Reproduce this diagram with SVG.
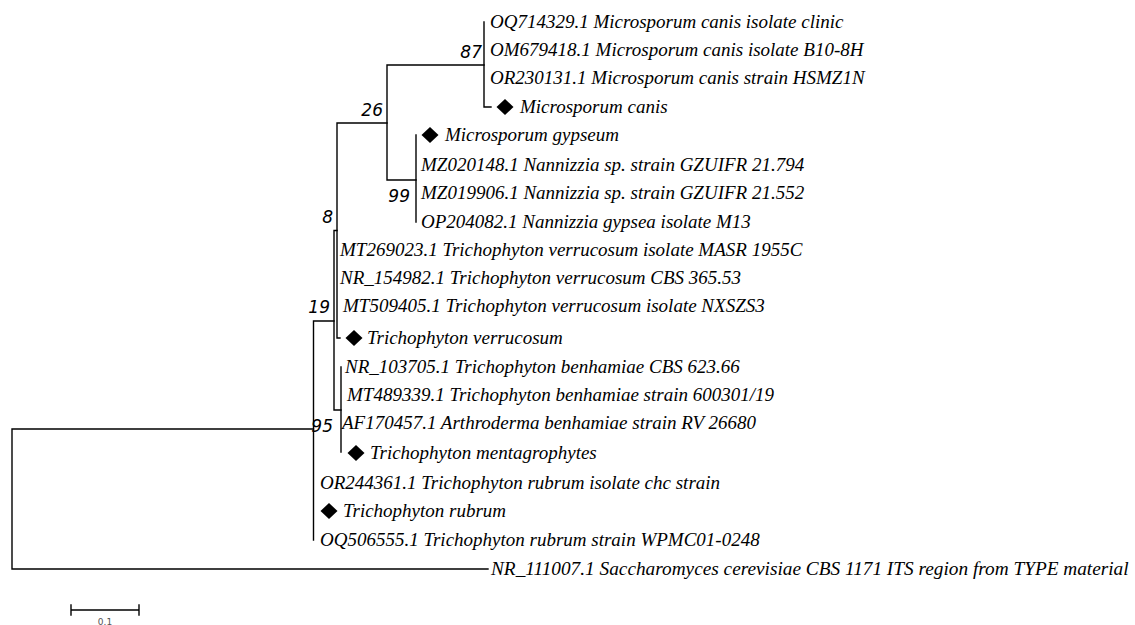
<svg xmlns="http://www.w3.org/2000/svg" width="1135" height="625" viewBox="0 0 1135 625">
<style>
.t{font-family:"Liberation Serif","Times New Roman",serif;font-style:italic;font-size:19px;fill:#000}
.b{font-family:"DejaVu Sans",Verdana,sans-serif;font-style:oblique;font-size:17px;fill:#000;text-anchor:end}
.l{stroke:#000;stroke-width:1.4;fill:none;stroke-linecap:square}
.s{font-family:"DejaVu Sans",sans-serif;font-size:9px;fill:#555;text-anchor:middle}
</style>
<defs>
<path id="dm" d="M0,-8 L8.5,0 L0,8 L-8.5,0 Z" fill="#000"/>
</defs>
<rect width="1135" height="625" fill="#fff"/>
<g id="connectors" class="l">
<path d="M12,429 V569 M12,429 H313.5 M12,569 H488"/>
<path d="M313.5,321 V540 M313.5,321 H334"/>
<path d="M334,230.5 V410 M334,230.5 H337 M334,410 H341"/>
<path d="M337,123 V338 M337,338 H340 M337,123 H387"/>
<path d="M387,65 V180 M387,65 H484 M387,180 H416"/>
<path d="M484,22 V107 M484,107 H491"/>
<path d="M416,135 V222"/>
<path d="M341,367 V452"/>
</g>
<g id="bootstrap">
<text class="b" x="482" y="58">87</text>
<text class="b" x="383" y="116">26</text>
<text class="b" x="410" y="202">99</text>
<text class="b" x="333" y="223">8</text>
<text class="b" x="330" y="313">19</text>
<text class="b" x="333" y="432">95</text>
</g>
<g id="leaf1"><text class="t" x="490" y="28">OQ714329.1 Microsporum canis isolate clinic</text></g>
<g id="leaf2"><text class="t" x="490" y="56">OM679418.1 Microsporum canis isolate B10-8H</text></g>
<g id="leaf3"><text class="t" x="490" y="84">OR230131.1 Microsporum canis strain HSMZ1N</text></g>
<g id="leaf4"><use href="#dm" x="505" y="107"/><text class="t" x="520" y="113">Microsporum canis</text></g>
<g id="leaf5"><use href="#dm" x="430" y="135"/><text class="t" x="445" y="141">Microsporum gypseum</text></g>
<g id="leaf6"><text class="t" x="421" y="171">MZ020148.1 Nannizzia sp. strain GZUIFR 21.794</text></g>
<g id="leaf7"><text class="t" x="421" y="199">MZ019906.1 Nannizzia sp. strain GZUIFR 21.552</text></g>
<g id="leaf8"><text class="t" x="421" y="228">OP204082.1 Nannizzia gypsea isolate M13</text></g>
<g id="leaf9"><text class="t" x="340" y="256">MT269023.1 Trichophyton verrucosum isolate MASR 1955C</text></g>
<g id="leaf10"><text class="t" x="340" y="284">NR_154982.1 Trichophyton verrucosum CBS 365.53</text></g>
<g id="leaf11"><text class="t" x="343" y="312">MT509405.1 Trichophyton verrucosum isolate NXSZS3</text></g>
<g id="leaf12"><use href="#dm" x="354" y="338"/><text class="t" x="367" y="344">Trichophyton verrucosum</text></g>
<g id="leaf13"><text class="t" x="345" y="373">NR_103705.1 Trichophyton benhamiae CBS 623.66</text></g>
<g id="leaf14"><text class="t" x="347" y="401">MT489339.1 Trichophyton benhamiae strain 600301/19</text></g>
<g id="leaf15"><text class="t" x="342" y="429">AF170457.1 Arthroderma benhamiae strain RV 26680</text></g>
<g id="leaf16"><use href="#dm" x="356" y="453"/><text class="t" x="370" y="459">Trichophyton mentagrophytes</text></g>
<g id="leaf17"><text class="t" x="320" y="489">OR244361.1 Trichophyton rubrum isolate chc strain</text></g>
<g id="leaf18"><use href="#dm" x="329" y="511"/><text class="t" x="343" y="517">Trichophyton rubrum</text></g>
<g id="leaf19"><text class="t" x="320" y="546">OQ506555.1 Trichophyton rubrum strain WPMC01-0248</text></g>
<g id="leaf20"><text class="t" x="491" y="575" style="font-size:19.3px">NR_111007.1 Saccharomyces cerevisiae CBS 1171 ITS region from TYPE material</text></g>
<g id="scalebar">
<path class="l" d="M71,610 H139 M71,605 V615 M139,605 V615" stroke-width="1.2"/>
<text class="s" x="105" y="624.5">0.1</text>
</g>
</svg>
